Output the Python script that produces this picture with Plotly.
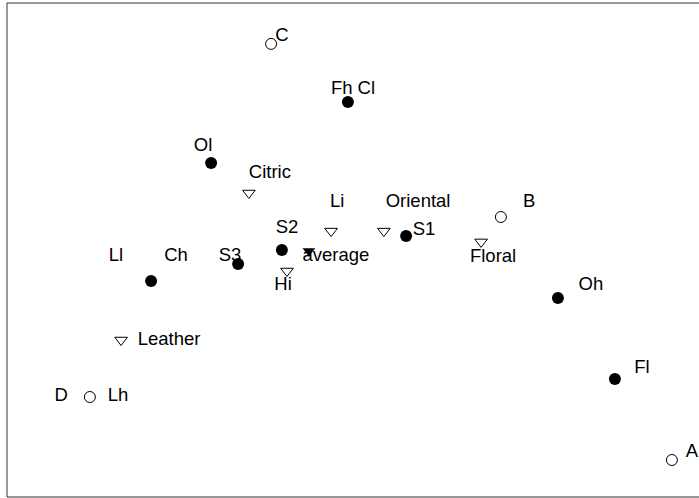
import plotly.graph_objects as go

# Marker data (dimension 1, dimension 2)
open_circle_names = ["C", "B", "Lh", "A"]
open_circle_x = [-0.263, 0.503, -0.867, 1.073]
open_circle_y = [0.687, 0.110, -0.490, -0.700]

filled_circle_names = ["Fh Cl", "Ol", "S2", "S1", "S3", "Ch", "Oh", "Fl"]
filled_circle_x = [-0.007, -0.463, -0.227, 0.187, -0.373, -0.663, 0.693, 0.883]
filled_circle_y = [0.493, 0.290, 0.000, 0.047, -0.047, -0.103, -0.160, -0.430]

open_tri_names = ["Citric", "Li", "Oriental", "Floral", "Hi", "Leather"]
open_tri_x = [-0.337, -0.063, 0.113, 0.437, -0.210, -0.763]
open_tri_y = [0.190, 0.063, 0.063, 0.027, -0.070, -0.300]

filled_tri_names = ["average"]
filled_tri_x = [-0.137]
filled_tri_y = [-0.003]

# Label data
label_text = ["C", "Fh Cl", "Ol", "Citric", "Li", "Oriental", "B", "S2", "S1",
              "Ll", "Ch", "S3", "average", "Floral", "Hi", "Oh", "Leather",
              "D", "Lh", "Fl", "A"]
label_x = [-0.227, 0.010, -0.490, -0.267, -0.043, 0.227, 0.597, -0.210, 0.247,
           -0.780, -0.580, -0.400, -0.047, 0.477, -0.223, 0.803, -0.603,
           -0.963, -0.773, 0.973, 1.140]
label_y = [0.713, 0.537, 0.347, 0.257, 0.160, 0.160, 0.160, 0.073, 0.067,
           -0.020, -0.020, -0.020, -0.020, -0.023, -0.117, -0.117, -0.300,
           -0.487, -0.487, -0.393, -0.673]

FONT = "Liberation Sans, Arial, Helvetica, sans-serif"

fig = go.Figure()
fig.add_trace(go.Scatter(x=open_circle_x, y=open_circle_y, mode="markers",
                         text=open_circle_names, hoverinfo="text",
                         marker=dict(symbol="circle-open", size=11, color="black",
                                     line=dict(width=1, color="black"))))
fig.add_trace(go.Scatter(x=filled_circle_x, y=filled_circle_y, mode="markers",
                         text=filled_circle_names, hoverinfo="text",
                         marker=dict(symbol="circle", size=12, color="black",
                                     line=dict(width=0))))
fig.add_trace(go.Scatter(x=open_tri_x, y=open_tri_y, mode="markers",
                         text=open_tri_names, hoverinfo="text",
                         marker=dict(symbol="triangle-down-open", size=11, color="black",
                                     line=dict(width=1, color="black"))))
fig.add_trace(go.Scatter(x=filled_tri_x, y=filled_tri_y, mode="markers",
                         text=filled_tri_names, hoverinfo="text",
                         marker=dict(symbol="triangle-down", size=11, color="black",
                                     line=dict(width=0))))
fig.add_trace(go.Scatter(x=label_x, y=label_y, mode="text", text=label_text,
                         textposition="middle center", hoverinfo="skip",
                         textfont=dict(family=FONT, size=18.5, color="black")))

axis_common = dict(showgrid=False, zeroline=False, showticklabels=False,
                   showline=False, ticks="")
fig.update_layout(
    width=699, height=498,
    margin=dict(l=7, r=0, t=3, b=1),
    paper_bgcolor="white", plot_bgcolor="white",
    showlegend=False,
    xaxis=dict(range=[-1.1433, 1.1633], **axis_common),
    yaxis=dict(range=[-0.8233, 0.8233], **axis_common),
    shapes=[
        dict(type="line", xref="paper", yref="paper", x0=0, x1=0, y0=0, y1=1,
             line=dict(color="#333333", width=1)),
        dict(type="line", xref="paper", yref="paper", x0=0, x1=1, y0=1, y1=1,
             line=dict(color="#333333", width=1)),
        dict(type="line", xref="paper", yref="paper", x0=0, x1=1, y0=0, y1=0,
             line=dict(color="#333333", width=1)),
    ],
)
fig.write_html("out.html",
               config={"displayModeBar": False},
               post_script="document.body.style.margin='0';document.body.style.overflow='hidden';")
